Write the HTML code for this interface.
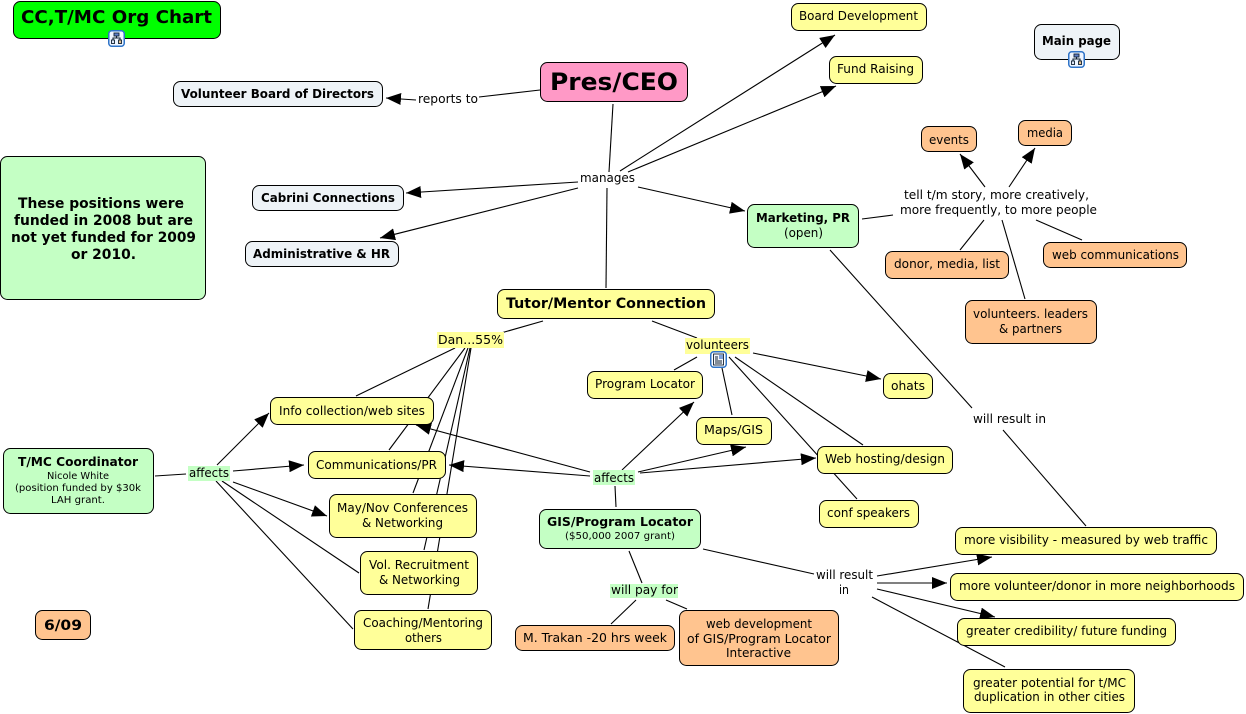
<!DOCTYPE html>
<html><head><meta charset="utf-8"><title>CC,T/MC Org Chart</title>
<style>
html,body{margin:0;padding:0;background:#fff;width:1246px;height:714px;overflow:hidden}
svg{display:block}
text{font-family:"DejaVu Sans","Liberation Sans",sans-serif;font-size:12px;fill:#000;white-space:pre}
.b{font-weight:bold}
.s{font-size:10px}
rect.n{stroke:#000;stroke-width:1}
.y{fill:#ffff99}.g{fill:#c4ffc4}.o{fill:#ffc48f}.w{fill:#eef3f7}
line{stroke:#000;stroke-width:1.1}
line.a{marker-end:url(#ah)}
</style></head><body>
<svg width="1246" height="714" viewBox="0 0 1246 714" xmlns="http://www.w3.org/2000/svg">
<defs>
<marker id="ah" markerUnits="userSpaceOnUse" markerWidth="16" markerHeight="12" refX="15" refY="6" orient="auto"><path d="M0,0L15,6L0,12z" fill="#000"/></marker>
<g id="ic">
<rect x="0.75" y="0.75" width="15.5" height="15.5" rx="3" fill="#eef5ff" stroke="#2f74c8" stroke-width="1.5"/>
<path d="M8.5 6V8M5 10V8H12V10" fill="none" stroke="#123" stroke-width="1.1"/>
<rect x="6" y="3" width="5" height="3" fill="#5f7fc8" stroke="#123" stroke-width=".9"/>
<rect x="3.5" y="10" width="3" height="3.5" fill="#dfe6f5" stroke="#123" stroke-width=".9"/>
<rect x="10.5" y="10" width="3" height="3.5" fill="#e0c090" stroke="#123" stroke-width=".9"/>
</g>
</defs>

<!-- connectors -->
<line x1="540" y1="90" x2="479" y2="97"/>
<line class="a" x1="416" y1="100" x2="386" y2="98"/>
<line x1="613" y1="104" x2="609" y2="172"/>
<line class="a" x1="620" y1="171" x2="835" y2="35"/>
<line class="a" x1="628" y1="172" x2="836" y2="86"/>
<line class="a" x1="578" y1="182" x2="406" y2="193"/>
<line class="a" x1="578" y1="188" x2="380" y2="238"/>
<line class="a" x1="638" y1="187" x2="745" y2="211"/>
<line x1="607" y1="188" x2="606" y2="288"/>
<line x1="862" y1="219" x2="893" y2="215"/>
<line class="a" x1="985" y1="187" x2="960" y2="154"/>
<line class="a" x1="1009" y1="187" x2="1035" y2="148"/>
<line x1="984" y1="220" x2="960" y2="250"/>
<line x1="1002" y1="220" x2="1025" y2="299"/>
<line x1="1036" y1="220" x2="1082" y2="240"/>
<line x1="830" y1="250" x2="972" y2="408"/>
<line x1="1003" y1="430" x2="1086" y2="526"/>
<line x1="543" y1="321" x2="501" y2="333"/>
<line x1="455" y1="348" x2="356" y2="396"/>
<line x1="465" y1="348" x2="389" y2="450"/>
<line x1="468" y1="348" x2="413" y2="493"/>
<line x1="470" y1="348" x2="424" y2="550"/>
<line x1="471" y1="348" x2="428" y2="609"/>
<line x1="652" y1="321" x2="697" y2="338"/>
<line x1="697" y1="357" x2="674" y2="370"/>
<line x1="722" y1="368" x2="732" y2="415"/>
<line class="a" x1="753" y1="353" x2="881" y2="379"/>
<line x1="735" y1="357" x2="863" y2="445"/>
<line x1="729" y1="357" x2="857" y2="499"/>
<line x1="616" y1="507" x2="615" y2="486"/>
<line class="a" x1="622" y1="470" x2="694" y2="402"/>
<line class="a" x1="638" y1="472" x2="746" y2="447"/>
<line class="a" x1="640" y1="473" x2="816" y2="458"/>
<line class="a" x1="590" y1="472" x2="416" y2="425"/>
<line class="a" x1="590" y1="476" x2="449" y2="465"/>
<line x1="155" y1="476" x2="186" y2="474"/>
<line class="a" x1="217" y1="465" x2="269" y2="413"/>
<line class="a" x1="233" y1="471" x2="304" y2="465"/>
<line class="a" x1="233" y1="482" x2="327" y2="516"/>
<line x1="222" y1="481" x2="359" y2="573"/>
<line x1="216" y1="481" x2="353" y2="629"/>
<line x1="629" y1="551" x2="642" y2="583"/>
<line x1="636" y1="600" x2="611" y2="624"/>
<line x1="666" y1="600" x2="687" y2="609"/>
<line x1="703" y1="549" x2="814" y2="574"/>
<line class="a" x1="877" y1="576" x2="992" y2="557"/>
<line class="a" x1="877" y1="583" x2="947" y2="583"/>
<line class="a" x1="877" y1="589" x2="995" y2="617"/>
<line x1="872" y1="597" x2="1005" y2="667"/>

<!-- nodes -->
<rect class="n" x="13.5" y="1.5" width="207" height="37" rx="7" fill="#00ff00"/>
<rect class="n y" x="791.5" y="3.5" width="135" height="27" rx="7"/>
<rect class="n y" x="829.5" y="56.5" width="93" height="27" rx="7"/>
<rect class="n w" x="1034.5" y="24.5" width="85" height="35" rx="7"/>
<rect class="n" x="540.5" y="62.5" width="147" height="39" rx="7" fill="#ff99c6"/>
<rect class="n w" x="173.5" y="81.5" width="209" height="25" rx="7"/>
<rect class="n w" x="252.5" y="185.5" width="151" height="25" rx="7"/>
<rect class="n w" x="245.5" y="241.5" width="153" height="25" rx="7"/>
<rect class="n g" x="0.5" y="156.5" width="205" height="143" rx="7"/>
<rect class="n g" x="747.5" y="204.5" width="111" height="43" rx="7"/>
<rect class="n o" x="921.5" y="126.5" width="55" height="25" rx="7"/>
<rect class="n o" x="1018.5" y="120.5" width="53" height="25" rx="7"/>
<rect class="n o" x="885.5" y="251.5" width="123" height="27" rx="7"/>
<rect class="n o" x="1043.5" y="242.5" width="143" height="25" rx="7"/>
<rect class="n o" x="965.5" y="300.5" width="131" height="43" rx="7"/>
<rect class="n y" x="497.5" y="289.5" width="217" height="29" rx="7"/>
<rect class="n y" x="587.5" y="371.5" width="115" height="27" rx="7"/>
<rect class="n y" x="696.5" y="417.5" width="75" height="27" rx="7"/>
<rect class="n y" x="883.5" y="373.5" width="49" height="25" rx="7"/>
<rect class="n y" x="817.5" y="446.5" width="135" height="27" rx="7"/>
<rect class="n y" x="819.5" y="500.5" width="99" height="27" rx="7"/>
<rect class="n y" x="270.5" y="397.5" width="163" height="27" rx="7"/>
<rect class="n y" x="308.5" y="451.5" width="137" height="27" rx="7"/>
<rect class="n y" x="329.5" y="494.5" width="147" height="43" rx="7"/>
<rect class="n y" x="360.5" y="551.5" width="117" height="43" rx="7"/>
<rect class="n y" x="354.5" y="610.5" width="137" height="39" rx="7"/>
<rect class="n g" x="3.5" y="448.5" width="150" height="65" rx="7"/>
<rect class="n o" x="35.5" y="610.5" width="55" height="29" rx="7"/>
<rect class="n g" x="539.5" y="509.5" width="161" height="39" rx="7"/>
<rect class="n o" x="515.5" y="625.5" width="159" height="25" rx="7"/>
<rect class="n o" x="679.5" y="610.5" width="159" height="55" rx="7"/>
<rect class="n y" x="955.5" y="527.5" width="261" height="27" rx="7"/>
<rect class="n y" x="950.5" y="573.5" width="293" height="27" rx="7"/>
<rect class="n y" x="957.5" y="618.5" width="218" height="27" rx="7"/>
<rect class="n y" x="963.5" y="669.5" width="171" height="43" rx="7"/>

<!-- label backgrounds -->
<rect x="437" y="332" width="67" height="16" fill="#ffff99"/>
<rect x="685" y="338" width="65" height="16" fill="#ffff99"/>
<rect x="593" y="470" width="42" height="15" fill="#c4ffc4"/>
<rect x="188" y="466" width="42" height="15" fill="#c4ffc4"/>
<rect x="610" y="584" width="68" height="14" fill="#c4ffc4"/>

<!-- icons -->
<use href="#ic" x="108" y="30"/>
<use href="#ic" x="1068" y="51"/>
<g transform="translate(710,351)">
<rect x="0.75" y="0.75" width="15.5" height="15.5" rx="3" fill="#fff" stroke="#2f74c8" stroke-width="1.5"/>
<rect x="3.5" y="3" width="10" height="11" fill="#f4f6fb" stroke="#123" stroke-width=".9"/>
<rect x="9" y="4" width="4" height="4" fill="#7fa0d8"/>
<path d="M5 6H8M5 8H8M5 10H12M5 12H12" stroke="#123" stroke-width=".9"/>
</g>

<!-- text -->
<text class="b" x="21" y="23" style="font-size:18px" textLength="191" lengthAdjust="spacingAndGlyphs">CC,T/MC Org Chart</text>
<text x="799" y="20" textLength="119" lengthAdjust="spacingAndGlyphs">Board Development</text>
<text x="837" y="73" textLength="77" lengthAdjust="spacingAndGlyphs">Fund Raising</text>
<text class="b" x="1042" y="45" textLength="69" lengthAdjust="spacingAndGlyphs">Main page</text>
<text class="b" x="550" y="90" style="font-size:24px" textLength="128" lengthAdjust="spacingAndGlyphs">Pres/CEO</text>
<text class="b" x="181" y="98" textLength="193" lengthAdjust="spacingAndGlyphs">Volunteer Board of Directors</text>
<text class="b" x="261" y="202" textLength="134" lengthAdjust="spacingAndGlyphs">Cabrini Connections</text>
<text class="b" x="253" y="258" textLength="137" lengthAdjust="spacingAndGlyphs">Administrative &amp; HR</text>
<text x="418" y="103" textLength="60" lengthAdjust="spacingAndGlyphs">reports to</text>
<text x="580" y="182" textLength="55" lengthAdjust="spacingAndGlyphs">manages</text>
<text class="b" style="font-size:14px" x="18" y="208" textLength="166" lengthAdjust="spacingAndGlyphs">These positions were</text>
<text class="b" style="font-size:14px" x="14" y="225" textLength="179" lengthAdjust="spacingAndGlyphs">funded in 2008 but are</text>
<text class="b" style="font-size:14px" x="11" y="242" textLength="185" lengthAdjust="spacingAndGlyphs">not yet funded for 2009</text>
<text class="b" style="font-size:14px" x="71" y="259" textLength="65" lengthAdjust="spacingAndGlyphs">or 2010.</text>
<text class="b" x="756" y="222" textLength="94" lengthAdjust="spacingAndGlyphs">Marketing, PR</text>
<text x="784" y="237" textLength="39" lengthAdjust="spacingAndGlyphs">(open)</text>
<text x="929" y="144" textLength="40" lengthAdjust="spacingAndGlyphs">events</text>
<text x="1027" y="137" textLength="36" lengthAdjust="spacingAndGlyphs">media</text>
<text x="904" y="199" textLength="185" lengthAdjust="spacingAndGlyphs">tell t/m story, more creatively,</text>
<text x="900" y="214" textLength="197" lengthAdjust="spacingAndGlyphs">more frequently, to more people</text>
<text x="894" y="268" textLength="106" lengthAdjust="spacingAndGlyphs">donor, media, list</text>
<text x="1052" y="259" textLength="127" lengthAdjust="spacingAndGlyphs">web communications</text>
<text x="973" y="318" textLength="115" lengthAdjust="spacingAndGlyphs">volunteers. leaders</text>
<text x="999" y="333" textLength="63" lengthAdjust="spacingAndGlyphs">&amp; partners</text>
<text x="973" y="423" textLength="73" lengthAdjust="spacingAndGlyphs">will result in</text>
<text class="b" style="font-size:14px" x="506" y="308" textLength="200" lengthAdjust="spacingAndGlyphs">Tutor/Mentor Connection</text>
<text x="438" y="344" textLength="65" lengthAdjust="spacingAndGlyphs">Dan...55%</text>
<text x="686" y="349" textLength="63" lengthAdjust="spacingAndGlyphs">volunteers</text>
<text x="595" y="388" textLength="100" lengthAdjust="spacingAndGlyphs">Program Locator</text>
<text x="704" y="434" textLength="59" lengthAdjust="spacingAndGlyphs">Maps/GIS</text>
<text x="891" y="390" textLength="34" lengthAdjust="spacingAndGlyphs">ohats</text>
<text x="825" y="463" textLength="120" lengthAdjust="spacingAndGlyphs">Web hosting/design</text>
<text x="827" y="517" textLength="83" lengthAdjust="spacingAndGlyphs">conf speakers</text>
<text x="594" y="482" textLength="40" lengthAdjust="spacingAndGlyphs">affects</text>
<text x="279" y="415" textLength="146" lengthAdjust="spacingAndGlyphs">Info collection/web sites</text>
<text x="316" y="469" textLength="121" lengthAdjust="spacingAndGlyphs">Communications/PR</text>
<text x="337" y="512" textLength="131" lengthAdjust="spacingAndGlyphs">May/Nov Conferences</text>
<text x="362" y="527" textLength="81" lengthAdjust="spacingAndGlyphs">&amp; Networking</text>
<text x="369" y="569" textLength="100" lengthAdjust="spacingAndGlyphs">Vol. Recruitment</text>
<text x="379" y="584" textLength="81" lengthAdjust="spacingAndGlyphs">&amp; Networking</text>
<text x="363" y="627" textLength="120" lengthAdjust="spacingAndGlyphs">Coaching/Mentoring</text>
<text x="405" y="642" textLength="37" lengthAdjust="spacingAndGlyphs">others</text>
<text class="b" x="18" y="466" textLength="120" lengthAdjust="spacingAndGlyphs">T/MC Coordinator</text>
<text class="s" x="47" y="479" textLength="62" lengthAdjust="spacingAndGlyphs">Nicole White</text>
<text class="s" x="15" y="491" textLength="126" lengthAdjust="spacingAndGlyphs">(position funded by $30k</text>
<text class="s" x="51" y="503" textLength="54" lengthAdjust="spacingAndGlyphs">LAH grant.</text>
<text x="189" y="477" textLength="40" lengthAdjust="spacingAndGlyphs">affects</text>
<text class="b" style="font-size:14px" x="44" y="630" textLength="38" lengthAdjust="spacingAndGlyphs">6/09</text>
<text class="b" x="547" y="526" textLength="146" lengthAdjust="spacingAndGlyphs">GIS/Program Locator</text>
<text class="s" x="565" y="539" textLength="110" lengthAdjust="spacingAndGlyphs">($50,000 2007 grant)</text>
<text x="611" y="594" textLength="67" lengthAdjust="spacingAndGlyphs">will pay for</text>
<text x="523" y="642" textLength="144" lengthAdjust="spacingAndGlyphs">M. Trakan -20 hrs week</text>
<text x="706" y="628" textLength="106" lengthAdjust="spacingAndGlyphs">web development</text>
<text x="687" y="643" textLength="144" lengthAdjust="spacingAndGlyphs">of GIS/Program Locator</text>
<text x="726" y="657" textLength="65" lengthAdjust="spacingAndGlyphs">Interactive</text>
<text x="816" y="579" textLength="57" lengthAdjust="spacingAndGlyphs">will result</text>
<text x="839" y="594" textLength="10" lengthAdjust="spacingAndGlyphs">in</text>
<text x="964" y="544" textLength="244" lengthAdjust="spacingAndGlyphs">more visibility - measured by web traffic</text>
<text x="959" y="590" textLength="276" lengthAdjust="spacingAndGlyphs">more volunteer/donor in more neighborhoods</text>
<text x="966" y="635" textLength="201" lengthAdjust="spacingAndGlyphs">greater credibility/ future funding</text>
<text x="973" y="687" textLength="153" lengthAdjust="spacingAndGlyphs">greater potential for t/MC</text>
<text x="974" y="701" textLength="151" lengthAdjust="spacingAndGlyphs">duplication in other cities</text>
</svg>
</body></html>
